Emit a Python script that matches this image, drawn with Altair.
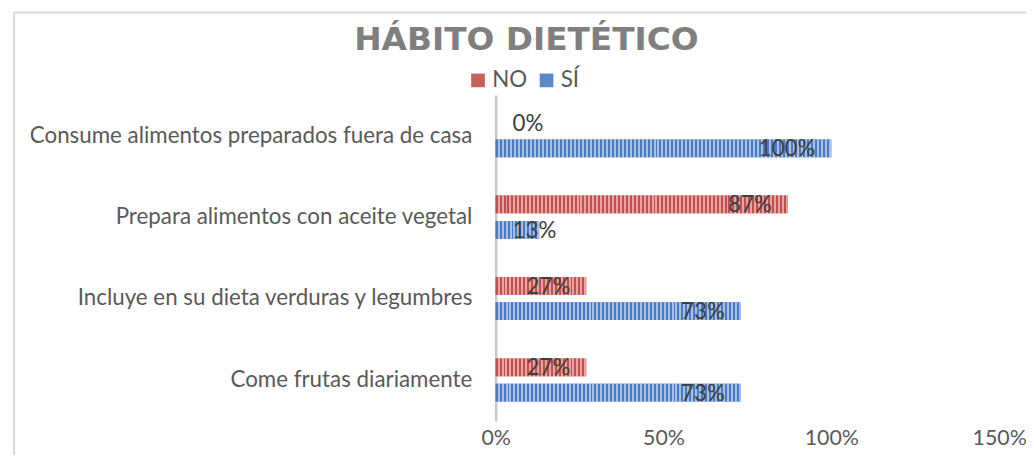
import altair as alt
import pandas as pd

categories = [
    "Consume alimentos preparados fuera de casa",
    "Prepara alimentos con aceite vegetal",
    "Incluye en su dieta verduras y legumbres",
    "Come frutas diariamente",
]
series = ["NO", "SÍ"]
no_values = [0.00, 0.87, 0.27, 0.27]
si_values = [1.00, 0.13, 0.73, 0.73]
x_ticks = [0, 0.5, 1.0, 1.5]
title_text = "HÁBITO DIETÉTICO"

rows = []
for c, v in zip(categories, no_values):
    rows.append({"cat": c, "serie": "NO", "value": v})
for c, v in zip(categories, si_values):
    rows.append({"cat": c, "serie": "SÍ", "value": v})
for i, r in enumerate(rows):
    r["idx"] = i
df = pd.DataFrame(rows)

W, H = 507, 328
XMAX = 1.5
FONT = "Lato"
FS = 22.5
DARK = {"NO": "#C0504D", "SÍ": "#4A7BC2"}
LIGHT = {"NO": "#E8A3A2", "SÍ": "#A7C0E6"}
MID = {"NO": "#C9605E", "SÍ": "#5E88C9"}

y_enc = alt.Y(
    "cat:N", sort=categories,
    scale=alt.Scale(paddingInner=0.378, paddingOuter=0.189),
    axis=alt.Axis(title=None, ticks=False, labelPadding=24, labelFontSize=FS,
                  labelFont=FONT, labelColor="#595959", domainColor="#c8c8c8",
                  domainWidth=2.5, labelLimit=600),
)
yoff_enc = alt.YOffset("serie:N", sort=series,
                       scale=alt.Scale(paddingInner=0.3, paddingOuter=0.15))
x_enc = alt.X(
    "value:Q", scale=alt.Scale(domain=[0, XMAX], nice=False),
    axis=alt.Axis(title=None, values=x_ticks, format=".0%", grid=False, domain=False,
                  ticks=False, labelPadding=7, labelFontSize=21.5, labelFont=FONT,
                  labelColor="#595959", labelFlush=False, labelOverlap=False),
)

base = alt.Chart(df)

bars = base.mark_bar().encode(
    x=x_enc, y=y_enc, yOffset=yoff_enc,
    color=alt.Color("serie:N", sort=series,
                    scale=alt.Scale(domain=series, range=[MID["NO"], MID["SÍ"]]),
                    legend=alt.Legend(title=None, orient="none", direction="horizontal",
                                      legendX=-29, legendY=-26, symbolType="square",
                                      symbolSize=190, labelFontSize=FS, labelFont=FONT,
                                      labelColor="#595959", columnPadding=8,
                                      labelOffset=3, symbolStrokeWidth=0)),
)

def stripes(dark, light, n):
    stops = []
    for k in range(n):
        a, b, c = k / n, (k + 0.5) / n, (k + 1) / n
        stops += [alt.GradientStop(offset=a, color=dark), alt.GradientStop(offset=b, color=dark),
                  alt.GradientStop(offset=b, color=light), alt.GradientStop(offset=c, color=light)]
    return alt.LinearGradient(gradient="linear", stops=stops, x1=0, x2=1, y1=0, y2=0)

layers = [bars]
for r in rows:
    if r["value"] <= 0:
        continue
    px = r["value"] / XMAX * W
    n = max(1, int(round(px / 4.0)))
    layers.append(
        base.transform_filter(alt.datum.idx == r["idx"]).mark_bar(
            color=stripes(DARK[r["serie"]], LIGHT[r["serie"]], n)
        ).encode(x=x_enc, y=y_enc, yOffset=yoff_enc)
    )

labels_big = base.transform_filter(alt.datum.value >= 0.2).mark_text(
    align="right", baseline="middle", dx=-16, dy=1, fontSize=FS, font=FONT, color="#404040"
).encode(x=x_enc, y=y_enc, yOffset=yoff_enc, text=alt.Text("value:Q", format=".0%"))

labels_small = base.transform_filter(alt.datum.value < 0.2).mark_text(
    align="left", baseline="middle", dx=17, dy=1, fontSize=FS, font=FONT, color="#404040"
).encode(x=alt.value(0), y=y_enc, yOffset=yoff_enc, text=alt.Text("value:Q", format=".0%"))

single = alt.Data(values=[{"t": title_text}])
frame_left = alt.Chart(single).mark_rule(color="#d9d9d9", strokeWidth=2).encode(
    x=alt.value(-485), y=alt.value(-83), y2=alt.value(H + 60))
frame_top = alt.Chart(single).mark_rule(color="#d9d9d9", strokeWidth=2).encode(
    x=alt.value(-485), x2=alt.value(W + 60), y=alt.value(-83))
title = alt.Chart(single).mark_text(
    font="DejaVu Sans", fontSize=33, fontWeight="bold", color="#7f7f7f",
    align="center", baseline="alphabetic"
).encode(x=alt.value(31), y=alt.value(-45), text="t:N")

chart = alt.layer(frame_left, frame_top, title, *layers, labels_big, labels_small).properties(
    width=W, height=H,
    autosize=alt.AutoSizeParams(type="none"),
    padding={"left": 491, "top": 86, "right": 27, "bottom": 33},
).configure_view(stroke=None)

chart.save("out.html", embed_options={"renderer": "svg", "actions": False})
